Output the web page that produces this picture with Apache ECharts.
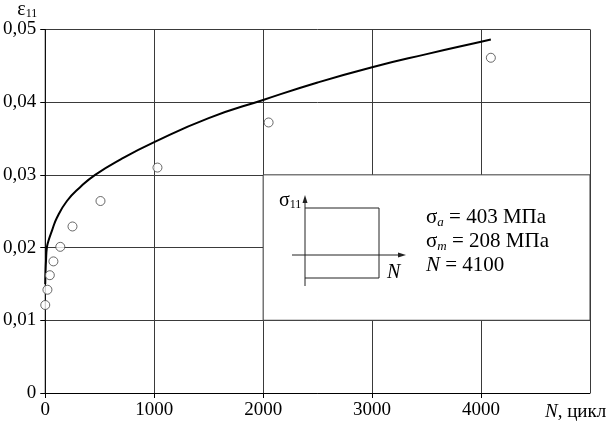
<!DOCTYPE html>
<html>
<head>
<meta charset="utf-8">
<script src="https://cdn.jsdelivr.net/npm/echarts@6/dist/echarts.min.js"></script>
<style>
  html, body { margin: 0; padding: 0; background: #fff; }
  #chart { width: 613px; height: 422px; }
</style>
</head>
<body>
<div id="chart"></div>
<script>
// опытные точки
var testN = [0, 20, 42, 75, 138, 250, 507, 1030, 2050, 4090]
var testEps = [0.0121, 0.0142, 0.0162, 0.0181, 0.0201, 0.0229, 0.0264, 0.0310, 0.0372, 0.0461]

// расчетная кривая
var curveN = [0, 3, 7, 15, 29, 61, 107, 199, 320, 458, 700, 1000, 1500, 2000, 2500, 3000, 3500, 4000, 4090]
var curveEps = [0.0150, 0.0168, 0.0182, 0.0200, 0.0209, 0.0223, 0.0241, 0.0264, 0.0283, 0.0300, 0.0322,
    0.0345, 0.0378, 0.0403, 0.0427, 0.0448, 0.0466, 0.0483, 0.0486]

var xTicks = [0, 1000, 2000, 3000, 4000]
var yTicks = ['0', '0,01', '0,02', '0,03', '0,04', '0,05']

var serif = 'Liberation Serif'
var gridColor = '#3a3a3a'

function pairs(xs, ys) {
    return xs.map(function (x, i) { return [x, ys[i]] })
}

var chart = echarts.init(document.getElementById('chart'), null, { renderer: 'canvas' })

chart.setOption({
    animation: false,
    textStyle: { fontFamily: serif },
    grid: { left: 45, right: 23, top: 28, bottom: 29 },
    xAxis: {
        type: 'value',
        min: 0,
        max: 5000,
        interval: 1000,
        name: '{i|N}{t|, цикл}',
        nameLocation: 'end',
        nameGap: -45,
        nameTextStyle: {
            padding: [38, 0, 0, 0],
            rich: {
                i: { fontFamily: serif, fontSize: 19, fontStyle: 'italic', color: '#000' },
                t: { fontFamily: serif, fontSize: 19, color: '#000' }
            }
        },
        axisLine: { lineStyle: { color: '#000', width: 1 } },
        axisTick: { show: true, length: 5, lineStyle: { color: '#000' } },
        axisLabel: {
            margin: 8,
            fontFamily: serif,
            fontSize: 19,
            color: '#000',
            showMaxLabel: false,
            formatter: function (v) {
                return xTicks.indexOf(v) >= 0 ? String(v) : ''
            }
        },
        splitLine: { show: true, lineStyle: { color: gridColor, width: 1 } }
    },
    yAxis: {
        type: 'value',
        min: 0,
        max: 0.05,
        interval: 0.01,
        name: '{e|ε}{s|11}',
        nameLocation: 'end',
        nameGap: 8,
        nameTextStyle: {
            align: 'right',
            padding: [0, 8, 0, 0],
            rich: {
                e: { fontFamily: serif, fontSize: 20, color: '#000' },
                s: { fontFamily: serif, fontSize: 12, color: '#000', verticalAlign: 'bottom' }
            }
        },
        axisLine: { show: true, lineStyle: { color: '#000', width: 1 } },
        axisTick: { show: true, length: 5, lineStyle: { color: '#000' } },
        axisLabel: {
            margin: 9,
            fontFamily: serif,
            fontSize: 19,
            color: '#000',
            formatter: function (v) {
                return yTicks[Math.round(v * 100)]
            }
        },
        splitLine: { show: true, lineStyle: { color: gridColor, width: 1 } }
    },
    series: [
        {
            name: 'расчет',
            type: 'line',
            data: pairs(curveN, curveEps),
            smooth: 0.5,
            showSymbol: false,
            lineStyle: { color: '#000', width: 2 },
            z: 3,
            // белое поле под врезку
            markArea: {
                silent: true,
                itemStyle: { color: '#fff', borderColor: gridColor, borderWidth: 1 },
                data: [[{ coord: [2000, 0.01] }, { coord: [5000, 0.03] }]]
            }
        },
        {
            name: 'эксперимент',
            type: 'scatter',
            data: pairs(testN, testEps),
            symbol: 'circle',
            symbolSize: 9,
            itemStyle: { color: '#fff', borderColor: '#444', borderWidth: 1 },
            z: 4
        }
    ],
    graphic: {
        elements: [
            // схема цикла
            { type: 'line', z: 100, shape: { x1: 305, y1: 286, x2: 305, y2: 200 }, style: { stroke: '#222', lineWidth: 1 } },
            { type: 'polygon', z: 100, shape: { points: [[305, 195], [302.5, 203], [307.5, 203]] }, style: { fill: '#222' } },
            { type: 'line', z: 100, shape: { x1: 292, y1: 255, x2: 400, y2: 255 }, style: { stroke: '#222', lineWidth: 1 } },
            { type: 'polygon', z: 100, shape: { points: [[406, 255], [398, 252.5], [398, 257.5]] }, style: { fill: '#222' } },
            { type: 'polyline', z: 100, shape: { points: [[305, 208], [379, 208], [379, 278], [305, 278]] }, style: { stroke: '#222', lineWidth: 1, fill: null } },
            {
                type: 'text', z: 100, x: 279, y: 191,
                style: {
                    text: '{e|σ}{s|11}',
                    rich: {
                        e: { fontFamily: serif, fontSize: 20, fill: '#000' },
                        s: { fontFamily: serif, fontSize: 12, fill: '#000', verticalAlign: 'bottom' }
                    }
                }
            },
            {
                type: 'text', z: 100, x: 387, y: 263,
                style: { text: 'N', fontFamily: serif, fontSize: 20, fontStyle: 'italic', fill: '#000' }
            },
            {
                type: 'text', z: 100, x: 426, y: 205,
                style: {
                    text: '{g|σ}{a|a}{t| = 403 МПа}\n{g|σ}{a|m}{t| = 208 МПа}\n{n|N}{t| = 4100}',
                    rich: {
                        g: { fontFamily: serif, fontSize: 21, fill: '#000', lineHeight: 24 },
                        a: { fontFamily: serif, fontSize: 13, fontStyle: 'italic', fill: '#000', verticalAlign: 'bottom', lineHeight: 24 },
                        n: { fontFamily: serif, fontSize: 21, fontStyle: 'italic', fill: '#000', lineHeight: 24 },
                        t: { fontFamily: serif, fontSize: 21, fill: '#000', lineHeight: 24 }
                    }
                }
            }
        ]
    }
})
</script>
</body>
</html>
